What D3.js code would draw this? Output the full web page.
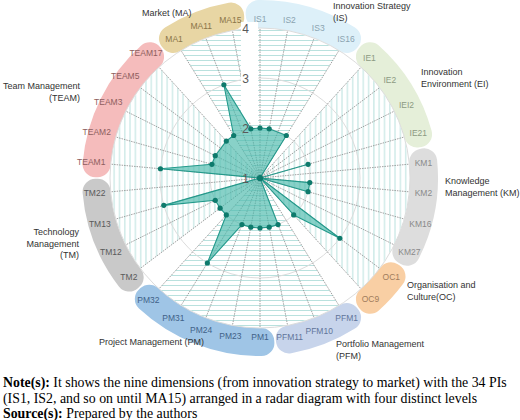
<!DOCTYPE html>
<html>
<head>
<meta charset="utf-8">
<script src="https://cdn.jsdelivr.net/npm/d3@7"></script>
<style>
  body { margin: 0; background: #fff; }
  svg { display: block; }
</style>
</head>
<body>
<svg id="chart" width="520" height="420"></svg>
<script>
// PIs in clockwise order, starting at the top
const categories = ["IS1", "IS2", "IS3", "IS16", "IE1", "IE2", "IEI2", "IE21",
  "KM1", "KM2", "KM16", "KM27", "OC1", "OC9", "PFM1", "PFM10", "PFM11",
  "PM1", "PM23", "PM24", "PM31", "PM32", "TM2", "TM12", "TM13", "TM22",
  "TEAM1", "TEAM2", "TEAM3", "TEAM5", "TEAM17", "MA1", "MA11", "MA15"];
// level per PI (null = no value shown)
const scores = [2, 2, null, 2, 1, 1, 1, 2,
  1, 2, 2, 1, 3, 2, 1, 2, 2,
  2, 2, 2, 3, 2, 2, 2, 3, 1,
  3, 2, 2, null, 2, 2, 3, 2];
const groups = ["IS", "IE", "KM", "OC", "PFM", "PM", "TM", "TEAM", "MA"];
const groupSizes = [4, 4, 4, 2, 3, 5, 4, 5, 3];
const groupNames = [
  ["Innovation Strategy", "(IS)"],
  ["Innovation", "Environment (EI)"],
  ["Knowledge", "Management (KM)"],
  ["Organisation and", "Culture(OC)"],
  ["Portfolio Management", "(PFM)"],
  ["Project Management (PM)"],
  ["Technology", "Management", "(TM)"],
  ["Team Management", "(TEAM)"],
  ["Market (MA)"]
];
const levels = [1, 2, 3, 4];

// styles / layout
const bandColor = {IS: "#ddf0f9", IE: "#e5efd9", KM: "#dddddd", OC: "#f9cfa4", PFM: "#c7d4eb",
  PM: "#9fc5e6", TM: "#c9c9c9", TEAM: "#f5bcbc", MA: "#e8d6a4"};
const labelColor = {IS: "#8aa3b0", IE: "#8c9a82", KM: "#8a8a8a", OC: "#a07c5c", PFM: "#61749a",
  PM: "#3f6288", TM: "#5a5a5a", TEAM: "#8e5e5e", MA: "#8a7548"};
const horizontalHatch = {IS: true, PFM: true, PM: true, MA: true};
const namePos = {
  IS: [333, 6, "start"], IE: [421, 72, "start"], KM: [445, 181, "start"],
  OC: [407, 285, "start"], PFM: [336, 344, "start"], PM: [99, 342, "start"],
  TM: [79, 232, "end"], TEAM: [80, 86, "end"], MA: [142, 13, "start"]
};

const cx = 260, cy = 178, R = 150;
const n = categories.length;
const step = 2 * Math.PI / n;
const angle = i => i * step;
const r = d3.scaleLinear().domain([1, 4]).range([0, R]);

// group of each category
const groupOf = [];
groups.forEach((g, gi) => { for (let k = 0; k < groupSizes[gi]; k++) groupOf.push(g); });

const svg = d3.select("#chart");
const defs = svg.append("defs");

// hatch patterns
const ph = defs.append("pattern").attr("id", "hatchH").attr("patternUnits", "userSpaceOnUse")
  .attr("width", 6).attr("height", 5);
ph.append("line").attr("x1", 0).attr("x2", 6).attr("y1", 2.5).attr("y2", 2.5)
  .attr("stroke", "#b9e1de").attr("stroke-width", 1);
const pv = defs.append("pattern").attr("id", "hatchV").attr("patternUnits", "userSpaceOnUse")
  .attr("width", 5.3).attr("height", 6);
pv.append("line").attr("y1", 0).attr("y2", 6).attr("x1", 2.6).attr("x2", 2.6)
  .attr("stroke", "#b9e1de").attr("stroke-width", 1);

const g = svg.append("g").attr("transform", `translate(${cx},${cy})`);

// coloured bands behind the PI labels
const pad = 5 * Math.PI / 180;
const bandArc = d3.arc().innerRadius(150).outerRadius(178).cornerRadius(13);
let start = 0;
groups.forEach((grp, gi) => {
  const a0 = angle(start) - pad, a1 = angle(start + groupSizes[gi] - 1) + pad;
  g.append("path")
    .attr("d", bandArc({startAngle: a0, endAngle: a1}))
    .attr("fill", bandColor[grp]);
  start += groupSizes[gi];
});

// hatched areas (one per hatch direction)
const radial = d3.lineRadial().angle(d => d.a).radius(d => d.r).curve(d3.curveLinearClosed);
[true, false].forEach(horiz => {
  const pts = categories.map((c, i) => ({
    a: angle(i),
    r: (!!horizontalHatch[groupOf[i]]) === horiz ? R : 0
  }));
  g.append("path").attr("d", radial(pts))
    .attr("fill", horiz ? "url(#hatchH)" : "url(#hatchV)");
});

// grid circles
g.selectAll("circle.grid").data(levels.slice(1)).join("circle")
  .attr("class", "grid")
  .attr("r", d => r(d))
  .attr("fill", "none")
  .attr("stroke", "#dcdcdc")
  .attr("stroke-width", 1);

// spokes
g.selectAll("line.spoke").data(categories).join("line")
  .attr("class", "spoke")
  .attr("x1", 0).attr("y1", 0)
  .attr("x2", (d, i) => R * Math.sin(angle(i)))
  .attr("y2", (d, i) => -R * Math.cos(angle(i)))
  .attr("stroke", "#8a8a8a")
  .attr("stroke-width", 0.8)
  .attr("stroke-dasharray", "1.5,1");

// white strip behind the value labels
g.append("rect").attr("x", -19).attr("y", -R - 6).attr("width", 17).attr("height", 100)
  .attr("fill", "#fff");

// series area
const seriesPts = categories.map((c, i) => ({a: angle(i), r: scores[i] == null ? null : r(scores[i]), i}))
  .filter(d => d.r != null);
g.append("path").attr("d", radial(seriesPts))
  .attr("fill", "#48b8ab")
  .attr("fill-opacity", 0.65)
  .attr("stroke", "#23998b")
  .attr("stroke-width", 1.1)
  .attr("stroke-linejoin", "round");

g.selectAll("circle.pt").data(seriesPts).join("circle")
  .attr("class", "pt")
  .attr("cx", d => d.r * Math.sin(d.a))
  .attr("cy", d => -d.r * Math.cos(d.a))
  .attr("r", 2.6)
  .attr("fill", "#0e7a6c");

// value labels
g.selectAll("text.tick").data(levels).join("text")
  .attr("class", "tick")
  .attr("x", -14.5)
  .attr("y", d => -r(d) + 1)
  .attr("text-anchor", "middle")
  .attr("dominant-baseline", "central")
  .attr("font-family", "Liberation Sans, Arial, sans-serif")
  .attr("font-size", 12)
  .attr("fill", "#595959")
  .text(d => d);

// PI labels
g.selectAll("text.cat").data(categories).join("text")
  .attr("class", "cat")
  .attr("font-family", "Liberation Sans, Arial, sans-serif")
  .attr("font-size", 8.5)
  .attr("fill", (d, i) => labelColor[groupOf[i]])
  .attr("text-anchor", "middle")
  .attr("dominant-baseline", "central")
  .text(d => d)
  .each(function (d, i) {
    const w = this.getComputedTextLength(), h = 8.5;
    const a = angle(i), s = Math.sin(a), c = Math.cos(a);
    const rr = 155 + Math.abs(s) * w / 2 + Math.abs(c) * h / 2;
    d3.select(this).attr("x", rr * s).attr("y", -rr * c);
  });

// dimension names
groups.forEach((grp, gi) => {
  const [x, y, anchor] = namePos[grp];
  const t = svg.append("text")
    .attr("font-family", "Liberation Sans, Arial, sans-serif")
    .attr("font-size", 9)
    .attr("fill", "#333")
    .attr("text-anchor", anchor)
    .attr("dominant-baseline", "central");
  groupNames[gi].forEach((line, li) => {
    t.append("tspan").attr("x", x).attr("y", y + li * 11.7).text(line);
  });
});

// note
const note = svg.append("text")
  .attr("font-family", "Liberation Serif, Times New Roman, serif")
  .attr("font-size", 13.85)
  .attr("fill", "#000");
const l1 = note.append("tspan").attr("x", 3).attr("y", 387);
l1.append("tspan").attr("font-weight", "bold").text("Note(s):");
l1.append("tspan").text(" It shows the nine dimensions (from innovation strategy to market) with the 34 PIs");
note.append("tspan").attr("x", 3).attr("y", 402.5)
  .text("(IS1, IS2, and so on until MA15) arranged in a radar diagram with four distinct levels");
const l3 = note.append("tspan").attr("x", 3).attr("y", 418);
l3.append("tspan").attr("font-weight", "bold").text("Source(s):");
l3.append("tspan").text(" Prepared by the authors");
</script>
</body>
</html>
